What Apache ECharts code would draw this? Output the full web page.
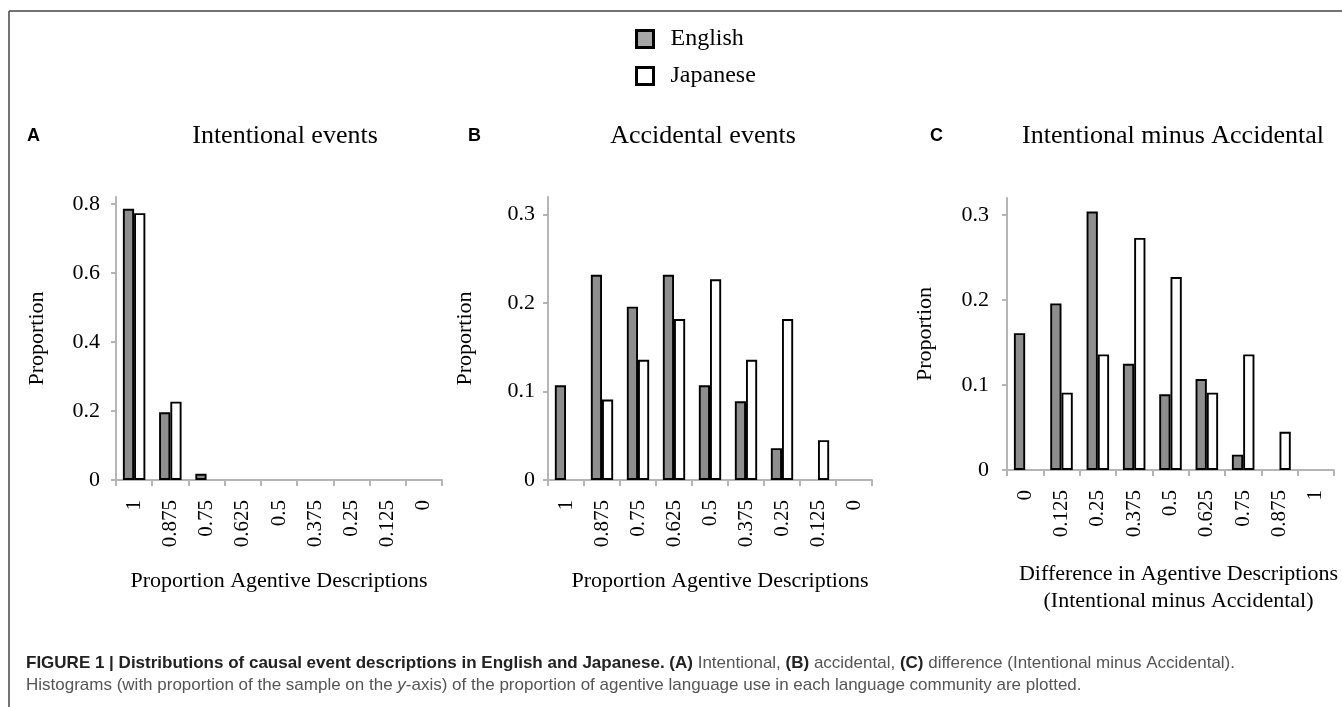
<!DOCTYPE html>
<html><head><meta charset="utf-8">
<script src="https://cdn.jsdelivr.net/npm/echarts@6/dist/echarts.min.js"></script>
<style>html,body{margin:0;padding:0;background:#fff}#c{width:1342px;height:707px}</style>
</head><body><div id="c"></div>
<script>
// ---- data ----
const catsDesc = ['1','0.875','0.75','0.625','0.5','0.375','0.25','0.125','0'];
const catsAsc  = ['0','0.125','0.25','0.375','0.5','0.625','0.75','0.875','1'];
const intentEnglish  = [0.786,0.196,0.018,0,0,0,0,0,0];
const intentJapanese = [0.773,0.227,0,0,0,0,0,0,0];
const accEnglish  = [0.107,0.232,0.196,0.232,0.107,0.089,0.036,0,0];
const accJapanese = [0,0.091,0.136,0.182,0.227,0.136,0.182,0.045,0];
const diffEnglish  = [0.161,0.196,0.304,0.125,0.089,0.107,0.018,0,0];
const diffJapanese = [0,0.091,0.136,0.273,0.227,0.091,0.136,0.045,0];
const ticksA  = [0,0.2,0.4,0.6,0.8];
const ticksBC = [0,0.1,0.2,0.3];

const SERIF = 'Liberation Serif';
const SANS = 'Liberation Sans';
const AX = '#b5b5b5';

function xAxis(idx, cats, name, gap, padLeft) {
  return {
    gridIndex: idx, type: 'category', data: cats, boundaryGap: true,
    axisLine: {show: true, lineStyle: {color: AX, width: 2}},
    axisTick: {show: true, length: 6, lineStyle: {color: AX, width: 2}},
    axisLabel: {rotate: 90, margin: 20, fontSize: 21, fontFamily: SERIF, color: '#000', interval: 0},
    splitLine: {show: false},
    name: name, nameLocation: 'middle', nameGap: gap, nameMoveOverlap: false,
    nameTextStyle: {fontSize: 22, fontFamily: SERIF, color: '#000', lineHeight: 27, padding: [0, 0, 0, padLeft]}
  };
}
function yAxis(idx, max, ticks, margin, gap) {
  return {
    gridIndex: idx, type: 'value', min: 0, max: max,
    axisLine: {show: true, lineStyle: {color: AX, width: 2}},
    axisTick: {show: true, length: 5, customValues: ticks, lineStyle: {color: AX, width: 2}},
    axisLabel: {customValues: ticks, margin: margin, fontSize: 22, fontFamily: SERIF, color: '#000'},
    splitLine: {show: false},
    name: 'Proportion', nameLocation: 'middle', nameRotate: 90, nameGap: gap, nameMoveOverlap: false,
    nameTextStyle: {fontSize: 22, fontFamily: SERIF, color: '#000'}
  };
}
function bars(name, data, idx, color) {
  return {
    type: 'bar', name: name, xAxisIndex: idx, yAxisIndex: idx,
    data: data.map(v => v === 0 ? '-' : v),
    barGap: '0%', barCategoryGap: '38%', silent: true,
    itemStyle: {color: color, borderColor: '#000', borderWidth: 1.9}
  };
}
function txt(x, y, text, font, align) {
  return {type: 'text', x: x, y: y, silent: true,
    style: {text: text, font: font, fill: '#000', align: align || 'center', verticalAlign: 'middle'}};
}

const GRAY = '#8e8e8e';
const option = {
  animation: false,
  backgroundColor: '#fff',
  grid: [
    {left: 116, top: 197, width: 326, height: 283},
    {left: 548, top: 197, width: 324, height: 283},
    {left: 1007, top: 198, width: 327, height: 272}
  ],
  xAxis: [
    xAxis(0, catsDesc, 'Proportion Agentive Descriptions', 88, 0),
    xAxis(1, catsDesc, 'Proportion Agentive Descriptions', 88, 20),
    xAxis(2, catsAsc, 'Difference in Agentive Descriptions\n(Intentional minus Accidental)', 91, 16)
  ],
  yAxis: [
    yAxis(0, 0.82, ticksA, 16, 68),
    yAxis(1, 0.32, ticksBC, 13, 72),
    yAxis(2, 0.32, ticksBC, 18, 71)
  ],
  legend: {
    orient: 'vertical', left: 630, top: 22, itemWidth: 17, itemHeight: 17, itemGap: 13,
    icon: 'rect', selectedMode: false,
    textStyle: {fontSize: 24, fontFamily: SERIF, color: '#000', padding: [0, 0, 0, 12]},
    data: [
      {name: 'English', itemStyle: {color: '#a6a6a6', borderColor: '#000', borderWidth: 3}},
      {name: 'Japanese', itemStyle: {color: '#fff', borderColor: '#000', borderWidth: 3}}
    ]
  },
  series: [
    bars('English', intentEnglish, 0, GRAY),
    bars('Japanese', intentJapanese, 0, '#fff'),
    bars('English', accEnglish, 1, GRAY),
    bars('Japanese', accJapanese, 1, '#fff'),
    bars('English', diffEnglish, 2, GRAY),
    bars('Japanese', diffJapanese, 2, '#fff')
  ],
  graphic: [
    {type: 'line', silent: true, shape: {x1: 9, y1: 11, x2: 1342, y2: 11}, style: {stroke: '#444', lineWidth: 1.5}},
    {type: 'line', silent: true, shape: {x1: 9, y1: 11, x2: 9, y2: 707}, style: {stroke: '#444', lineWidth: 1.5}},
    txt(27, 136, 'A', 'bold 18px ' + SANS, 'left'),
    txt(468, 136, 'B', 'bold 18px ' + SANS, 'left'),
    txt(930, 136, 'C', 'bold 18px ' + SANS, 'left'),
    txt(285, 136, 'Intentional events', '26px ' + SERIF),
    txt(703, 136, 'Accidental events', '26px ' + SERIF),
    txt(1173, 136, 'Intentional minus Accidental', '26px ' + SERIF),
    {type: 'text', x: 26, y: 663, silent: true, style: {
      text: '{b|FIGURE 1 | Distributions of causal event descriptions in English and Japanese. (A)} Intentional, {b|(B)} accidental, {b|(C)} difference (Intentional minus Accidental).',
      font: '17px ' + SANS, fill: '#555', align: 'left', verticalAlign: 'middle',
      rich: {b: {fontWeight: 'bold', fill: '#222', fontSize: 17, fontFamily: SANS}}
    }},
    {type: 'text', x: 26, y: 685, silent: true, style: {
      text: 'Histograms (with proportion of the sample on the {i|y}-axis) of the proportion of agentive language use in each language community are plotted.',
      font: '17px ' + SANS, fill: '#555', align: 'left', verticalAlign: 'middle',
      rich: {i: {fontStyle: 'italic', fill: '#555', fontSize: 17, fontFamily: SANS}}
    }}
  ]
};
echarts.init(document.getElementById('c'), null, {renderer: 'canvas'}).setOption(option);
</script>
</body></html>
